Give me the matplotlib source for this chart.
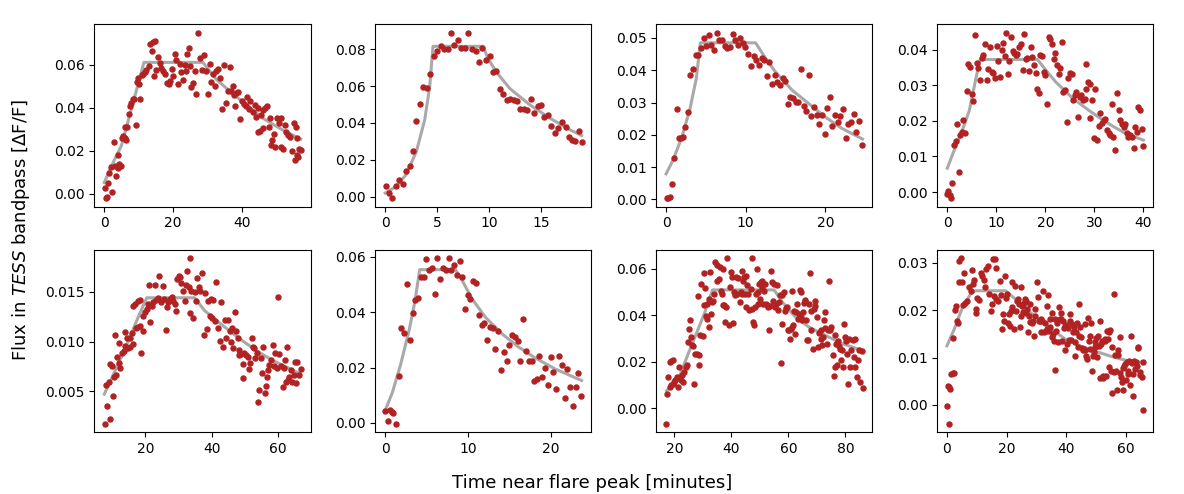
import numpy as np
import matplotlib
matplotlib.use("Agg")
import matplotlib.pyplot as plt

# flare light curves, (minutes, flux)
flare1 = [(0.2,0.0025),(0.5,-0.0022),(0.9,-0.0014),(1.2,0.0049),(2.1,0.0008),(1.4,0.0094),(1.8,0.0123),
          (2.8,0.0241),(3.4,0.008),(3.1,0.0131),(3.9,0.0178),(4.3,0.0139),(4.05,0.012),(4.8,0.013),(5.0,0.026),
          (5.5,0.027),(5.9,0.026),(6.3,0.025),(6.7,0.031),(6.1,0.031),(7.1,0.037),(7.4,0.041),(7.8,0.042),
          (8.2,0.044),(8.7,0.044),(9.2,0.032),(9.4,0.052),(9.8,0.054),(10.1,0.051),(10.5,0.044),(10.8,0.055),
          (11.3,0.0556),(11.8,0.0564),(12.2,0.0575),(13.0,0.0595),(13.4,0.0698),(14.2,0.0704),(14.8,0.071),
          (13.8,0.0666),(14.5,0.0548),(15.1,0.0575),(15.6,0.0635),(16.1,0.061),(16.5,0.0587),(17.1,0.057),
          (17.6,0.0556),(18.2,0.0516),(18.7,0.0509),(19.2,0.0524),(19.5,0.058),(19.96,0.0548),(20.4,0.065),
          (20.7,0.062),(21.4,0.0509),(21.9,0.0603),(22.4,0.0564),(22.9,0.0528),(23.3,0.060),(24.0,0.065),
          (24.5,0.068),(23.8,0.057),(24.8,0.0595),(25.3,0.0496),(25.8,0.0516),(26.2,0.0569),(26.7,0.0466),
          (27.1,0.075),(27.7,0.063),(28.3,0.0575),(28.8,0.0646),(29.4,0.0569),(30.0,0.0465),(30.6,0.0603),
          (30.9,0.052),(31.5,0.0556),(32.0,0.050),(32.5,0.057),(33.0,0.058),(33.5,0.054),(34.2,0.0394),
          (34.7,0.0598),(35.2,0.0422),(35.8,0.0477),(36.4,0.059),(36.8,0.0477),(37.3,0.050),(37.6,0.046),
          (38.0,0.041),(38.3,0.047),(38.9,0.0474),(39.4,0.0346),(39.9,0.043),(40.4,0.0417),(41.0,0.0406),
          (41.5,0.0449),(41.9,0.0395),(42.3,0.043),(43.1,0.038),(43.7,0.0414),(44.1,0.0356),(44.7,0.040),
          (45.5,0.0367),(46.0,0.039),(44.5,0.0288),(45.2,0.0293),(46.0,0.0304),(46.7,0.040),(47.3,0.0406),
          (47.7,0.031),(48.2,0.035),(48.7,0.0249),(49.1,0.0276),(48.4,0.0225),(49.5,0.0217),(50.0,0.035),
          (50.6,0.033),(51.3,0.035),(51.3,0.0217),(52.0,0.0209),(52.5,0.032),(52.7,0.0288),(53.4,0.0272),
          (54.0,0.0265),(54.5,0.0197),(55.0,0.0328),(55.5,0.031),(55.8,0.0257),(56.2,0.017),(56.6,0.0209),
          (57.0,0.0202),(55.4,0.0159),(56.0,0.0178)]
model1 = [(0,0.0052),(2.6,0.0146),(5,0.0225),(7.4,0.0367),(9.8,0.0509),(11.5,0.0611),(28.6,0.0611),
          (32.5,0.0532),(36.4,0.0477),(41.2,0.0414),(46,0.0351),(51.8,0.0296),(57.0,0.0254)]

flare2 = [(0.03,0.0059),(0.35,0.002),(0.68,-0.0009),(1.0,0.0056),(1.32,0.0092),(1.7,0.007),(2.0,0.0142),
          (2.35,0.0167),(2.67,0.0248),(3.0,0.0408),(3.35,0.0502),(3.67,0.0592),(4.0,0.059),(4.35,0.0667),
          (4.67,0.0761),(5.0,0.0788),(5.34,0.0819),(5.7,0.0802),(6.0,0.080),(6.34,0.089),(6.66,0.0824),
          (7.0,0.0847),(7.3,0.0806),(7.66,0.0806),(8.0,0.0887),(8.34,0.0799),(8.7,0.079),(9.0,0.073),
          (9.36,0.0808),(9.7,0.0743),(10.04,0.0761),(10.37,0.0676),(10.7,0.068),(11.04,0.0586),(11.37,0.0556),
          (11.68,0.0523),(12.04,0.0532),(12.36,0.0523),(12.67,0.0518),(13.0,0.0478),(13.36,0.0478),
          (13.68,0.047),(14.0,0.0532),(14.32,0.0452),(14.68,0.0491),(15.0,0.0497),(15.32,0.0434),
          (15.68,0.0443),(16.0,0.0383),(16.35,0.0347),(16.67,0.037),(17.03,0.0403),(17.35,0.0376),
          (17.67,0.0326),(18.0,0.0308),(18.3,0.0304),(18.6,0.0356),(18.9,0.0295)]
model2 = [(0,0.002),(1.06,0.0056),(2.0,0.0119),(3.0,0.0245),(3.8,0.0416),(4.28,0.0595),(4.6,0.0815),
          (9.43,0.0815),(9.9,0.0748),(10.7,0.0676),(12.0,0.0586),(13.94,0.0497),(15.87,0.0425),
          (17.8,0.0362),(18.9,0.0332)]

flare3 = [(0.08,0.0003),(0.29,0.0005),(0.5,0.0007),(0.74,0.0049),(1.03,0.0128),(1.4,0.028),(1.65,0.019),
          (1.9,0.019),(2.15,0.0192),(2.4,0.0224),(2.73,0.027),(3.06,0.0386),(3.4,0.0403),(3.72,0.0447),
          (4.05,0.0447),(4.38,0.0468),(4.7,0.050),(5.04,0.0475),(5.37,0.0509),(5.7,0.0478),(6.03,0.0463),
          (6.36,0.0517),(6.7,0.0493),(7.02,0.0493),(7.36,0.0475),(7.69,0.047),(8.0,0.0473),(8.35,0.0512),
          (8.68,0.0493),(9.0,0.0478),(9.34,0.050),(9.67,0.0483),(9.9,0.0471),(10.33,0.045),(10.66,0.0413),
          (11.0,0.0444),(11.32,0.0432),(11.65,0.0416),(12.0,0.0437),(12.3,0.0432),(12.64,0.0382),
          (12.97,0.0427),(13.3,0.0357),(13.64,0.0385),(13.97,0.0365),(14.3,0.0355),(14.63,0.0375),
          (14.96,0.0368),(15.3,0.0295),(15.6,0.0317),(15.95,0.0314),(16.28,0.0303),(16.6,0.0303),
          (16.94,0.0403),(17.27,0.029),(17.6,0.0274),(17.93,0.0385),(18.26,0.0257),(18.6,0.0286),
          (18.93,0.0262),(19.25,0.0234),(19.6,0.0262),(19.9,0.0204),(20.25,0.0282),(20.6,0.0317),
          (20.9,0.0228),(21.24,0.0262),(21.57,0.0239),(21.9,0.0257),(22.23,0.028),(22.56,0.019),
          (22.9,0.0234),(23.2,0.0239),(23.55,0.0264),(23.88,0.021),(24.2,0.0242),(24.55,0.0169)]
model3 = [(0,0.0079),(0.9,0.0123),(1.94,0.019),(2.98,0.0278),(3.8,0.0375),(4.3,0.0485),(11.24,0.0485),
          (12.5,0.0437),(13.7,0.0396),(15.8,0.0339),(17.85,0.0298),(19.9,0.0257),(22,0.0221),(24.67,0.0187)]

flare4 = [(-0.07,-0.0006),(0.2,0.0002),(0.47,-0.0009),(0.74,-0.0018),(1.0,0.0024),(1.35,0.0132),
          (1.7,0.0144),(2.0,0.0191),(2.37,0.0057),(2.64,0.016),(3.04,0.017),(3.3,0.0202),(3.65,0.0165),
          (4.0,0.0284),(4.3,0.0359),(4.66,0.0352),(5.0,0.0277),(5.34,0.0257),(5.68,0.0442),(6.0,0.0362),
          (6.35,0.0348),(6.7,0.0315),(7.03,0.0376),(7.36,0.0385),(7.7,0.0416),(8.04,0.0315),(8.38,0.0345),
          (8.72,0.0407),(9.05,0.0338),(9.4,0.0334),(9.73,0.0322),(10.07,0.041),(10.4,0.0369),(10.74,0.0324),
          (11.08,0.0399),(11.4,0.042),(11.76,0.0383),(11.96,0.0449),(12.3,0.0332),(12.64,0.0369),
          (12.97,0.0437),(13.3,0.0397),(13.65,0.039),(14.0,0.0385),(14.3,0.0388),(14.66,0.0409),(15.0,0.0416),
          (15.34,0.0343),(15.68,0.0444),(16.0,0.0373),(16.35,0.0376),(16.7,0.0341),(17.03,0.0407),
          (17.36,0.038),(17.7,0.0357),(18.04,0.0334),(18.3,0.0289),(18.65,0.0279),(19.0,0.0385),
          (19.32,0.0382),(19.66,0.0338),(20.0,0.0329),(20.34,0.0249),(20.68,0.0435),(21.0,0.0432),
          (21.35,0.0416),(21.7,0.0373),(22.0,0.039),(22.36,0.0357),(22.7,0.0332),(23.04,0.0348),
          (23.3,0.0423),(23.65,0.0282),(24.0,0.0287),(24.32,0.0198),(24.66,0.032),(25.0,0.0334),
          (25.34,0.0332),(25.68,0.026),(26.0,0.0273),(26.35,0.0282),(26.7,0.021),(27.0,0.0268),
          (27.36,0.0273),(27.7,0.026),(28.04,0.0263),(28.38,0.0291),(28.3,0.036),(28.7,0.031),(29.05,0.0305),
          (29.05,0.0209),(29.5,0.026),(29.86,0.0151),(30.2,0.0291),(30.6,0.0146),(30.9,0.0186),(31.2,0.0221),
          (31.55,0.0195),(31.9,0.0202),(32.2,0.0206),(32.56,0.0174),(32.9,0.0165),(33.24,0.016),(33.6,0.0247),
          (33.9,0.0156),(34.26,0.0118),(34.6,0.0279),(34.93,0.023),(35.27,0.0202),(35.6,0.0191),
          (35.95,0.0184),(36.3,0.0191),(36.6,0.0167),(36.96,0.0154),(37.3,0.016),(37.64,0.0156),
          (38.0,0.0123),(38.3,0.0182),(38.65,0.017),(39.0,0.0238),(39.3,0.023),(39.66,0.0176),(40.0,0.0129)]
model4 = [(0,0.0067),(1.15,0.0109),(2.84,0.0165),(4.5,0.023),(5.9,0.0324),(6.7,0.0373),(18.4,0.0373),
          (20.1,0.0343),(22.1,0.031),(25.5,0.0265),(28.85,0.023),(32.2,0.0198),(36.3,0.0165),(40,0.0146)]

flare5 = [(7.8,0.0017),(9.2,0.0022),(8.4,0.0035),(8.1,0.0056),(8.9,0.0059),(10.2,0.0045),(9.4,0.0077),
          (9.8,0.0075),(10.6,0.0064),(11.1,0.0066),(10.7,0.0107),(11.4,0.0084),(11.9,0.0078),(12.4,0.0073),
          (11.9,0.0098),(12.9,0.0088),(13.4,0.009),(13.9,0.0095),(14.4,0.0104),(13.7,0.011),(14.9,0.0093),
          (15.4,0.0094),(16.2,0.0097),(16.2,0.0136),(16.9,0.0138),(17.7,0.0141),(15.4,0.0104),(15.9,0.0109),
          (17.2,0.0114),(17.9,0.0115),(18.4,0.0116),(18.7,0.0088),(18.4,0.0142),(19.2,0.0111),(19.4,0.0126),
          (19.9,0.0130),(20.4,0.0133),(20.9,0.0138),(21.2,0.0157),(21.9,0.0136),(22.4,0.014),(21.4,0.012),
          (22.9,0.0157),(23.2,0.0142),(23.9,0.0144),(24.2,0.0166),(24.6,0.014),(25.2,0.0156),(25.6,0.0143),
          (26.2,0.0112),(26.6,0.0135),(26.9,0.014),(27.4,0.0143),(27.9,0.0145),(28.4,0.0141),(28.9,0.0138),
          (29.2,0.0131),(29.6,0.0163),(30.2,0.0166),(30.6,0.0165),(30.9,0.0159),(31.4,0.0151),(31.9,0.0141),
          (32.4,0.0157),(32.6,0.0171),(33.1,0.0155),(33.6,0.0184),(33.4,0.0129),(33.9,0.0151),(34.4,0.0124),
          (34.9,0.015),(35.2,0.0141),(35.6,0.0164),(36.2,0.0155),(36.6,0.0151),(37.1,0.0169),(37.6,0.0107),
          (37.9,0.0149),(38.6,0.0113),(38.9,0.0141),(39.4,0.0126),(39.8,0.0143),(40.4,0.0142),(40.2,0.0124),
          (40.9,0.0121),(41.2,0.016),(41.9,0.0114),(42.4,0.0101),(42.9,0.014),(43.4,0.0094),(43.9,0.0122),
          (44.4,0.0104),(44.9,0.0122),(45.4,0.0111),(45.9,0.0099),(46.2,0.0114),(46.6,0.0093),(47.2,0.013),
          (47.4,0.0111),(47.9,0.0104),(48.2,0.0086),(48.4,0.0091),(48.9,0.0087),(49.4,0.0077),(49.6,0.0063),
          (49.9,0.0088),(50.4,0.0086),(50.9,0.0084),(51.2,0.0072),(51.6,0.0078),(52.1,0.0104),(52.4,0.0094),
          (52.7,0.0093),(53.1,0.0083),(53.6,0.0088),(53.9,0.0039),(54.4,0.0051),(54.9,0.0083),(55.2,0.0068),
          (55.6,0.0094),(56.1,0.0048),(56.4,0.0055),(56.7,0.0064),(57.1,0.0071),(57.4,0.0076),(57.9,0.0081),
          (58.4,0.0096),(58.7,0.0075),(59.2,0.0088),(59.6,0.0073),(60.0,0.0145),(60.4,0.0087),(60.9,0.0075),
          (61.4,0.0054),(61.9,0.0073),(62.2,0.0081),(62.4,0.0059),(62.9,0.0094),(63.2,0.0061),(63.4,0.0064),
          (63.9,0.0071),(64.4,0.0059),(64.8,0.0066),(65.2,0.0079),(65.6,0.0058),(65.9,0.0079),(66.4,0.0066),
          (66.9,0.0072)]
model5 = [(7.6,0.0047),(13.4,0.0089),(17.9,0.0125),(20.4,0.0144),(34.9,0.0144),(37.9,0.0131),(43.4,0.0116),
          (48.4,0.0103),(53.4,0.0091),(58.4,0.0081),(63.4,0.0073),(66.4,0.0068)]

flare6 = [(0.0,0.0042),(0.28,0.0006),(0.6,0.0045),(0.8,0.0041),(0.96,0.0036),(1.28,-0.0004),(1.64,0.0169),
          (1.96,0.0342),(2.28,0.0325),(2.64,0.0502),(2.96,0.030),(3.32,0.0399),(3.64,0.0446),(3.96,0.0452),
          (4.28,0.0529),(4.64,0.0527),(4.96,0.0593),(5.28,0.0551),(5.64,0.056),(5.96,0.0466),(6.28,0.0596),
          (6.64,0.052),(6.96,0.056),(7.28,0.0554),(7.64,0.0595),(7.96,0.0551),(8.28,0.0571),(8.64,0.0536),
          (8.96,0.0587),(9.28,0.0529),(9.64,0.0413),(9.96,0.0464),(10.28,0.0448),(10.64,0.0512),
          (10.96,0.0505),(11.28,0.039),(11.64,0.0355),(11.96,0.036),(12.28,0.0298),(12.64,0.0348),
          (12.96,0.0343),(13.28,0.0266),(13.64,0.0331),(13.96,0.0192),(14.28,0.0255),(14.64,0.0225),
          (14.96,0.0282),(15.28,0.0318),(15.6,0.031),(15.96,0.0295),(16.28,0.0225),(16.6,0.0375),
          (16.96,0.0259),(17.28,0.0223),(17.64,0.0223),(17.96,0.0153),(18.28,0.0159),(18.6,0.0243),
          (18.96,0.0165),(19.28,0.02),(19.6,0.0137),(19.96,0.0237),(20.28,0.0183),(20.64,0.0123),
          (20.96,0.024),(21.28,0.0211),(21.64,0.009),(21.96,0.0195),(22.28,0.0131),(22.64,0.006),
          (22.96,0.0129),(23.28,0.018),(23.64,0.0096)]
model6 = [(0,0.0045),(0.88,0.0111),(1.88,0.0213),(2.88,0.0334),(3.6,0.0442),(4.16,0.0554),(8.48,0.0554),
          (9.28,0.0515),(10.48,0.0448),(12.08,0.0382),(14.08,0.0322),(16.08,0.0274),(18.08,0.0235),
          (20.48,0.0195),(23.68,0.0153)]

flare7 = [(17.1,-0.0067),(17.4,0.0064),(17.8,0.0133),(18.3,0.020),(19.0,0.0204),(19.4,0.0207),(18.3,0.0093),
          (18.8,0.010),(19.4,0.0107),(20.0,0.0114),(20.3,0.0124),(20.8,0.0136),(21.2,0.0093),(21.5,0.0179),
          (21.7,0.0129),(22.3,0.0121),(22.7,0.0143),(23.1,0.0114),(23.5,0.0157),(24.1,0.0179),(24.4,0.0186),
          (24.8,0.0286),(25.2,0.0343),(25.6,0.0379),(25.8,0.0307),(26.2,0.0272),(26.6,0.0267),(26.9,0.0104),
          (27.1,0.0236),(27.8,0.0233),(28.2,0.0482),(28.5,0.0186),(28.7,0.0229),(29.0,0.0314),(29.4,0.0536),
          (29.9,0.031),(30.4,0.0583),(30.5,0.0447),(30.8,0.0517),(31.1,0.0396),(31.3,0.0386),(31.5,0.045),
          (32.0,0.035),(32.2,0.0472),(32.6,0.0586),(32.8,0.0407),(33.2,0.0457),(33.6,0.0461),(33.9,0.0493),
          (34.3,0.0629),(34.8,0.0547),(35.1,0.0619),(35.5,0.0557),(36.0,0.0607),(36.3,0.0507),(36.7,0.0493),
          (36.9,0.060),(37.1,0.0447),(37.5,0.0443),(37.8,0.0372),(38.1,0.0436),(38.6,0.0647),(39.0,0.0357),
          (39.5,0.0524),(39.8,0.0586),(40.2,0.0564),(40.6,0.0367),(41.0,0.050),(41.3,0.0486),(41.8,0.0564),
          (42.1,0.0493),(42.5,0.0561),(42.9,0.0457),(43.3,0.050),(43.6,0.0593),(43.9,0.0493),(44.1,0.055),
          (44.5,0.0567),(44.8,0.0493),(45.0,0.0436),(45.3,0.0571),(45.6,0.0529),(46.0,0.0493),(46.2,0.0424),
          (46.8,0.0514),(47.1,0.0647),(47.4,0.0429),(47.6,0.0372),(47.96,0.0357),(48.3,0.0436),(48.5,0.0493),
          (48.9,0.060),(49.2,0.045),(49.5,0.050),(49.7,0.0536),(50.05,0.0472),(50.3,0.0543),(50.6,0.0519),
          (50.9,0.055),(51.2,0.045),(51.4,0.0507),(51.8,0.0536),(52.0,0.045),(52.6,0.0443),(52.96,0.0436),
          (53.2,0.0339),(53.5,0.0439),(53.8,0.059),(54.1,0.0543),(54.6,0.0461),(54.9,0.0536),(55.3,0.0436),
          (55.5,0.045),(55.9,0.0529),(56.2,0.0424),(56.6,0.0457),(56.9,0.0486),(57.4,0.0196),(57.6,0.0486),
          (57.9,0.0364),(58.4,0.050),(58.8,0.0421),(59.0,0.0433),(59.6,0.0436),(59.95,0.0339),(60.2,0.0336),
          (60.5,0.030),(60.8,0.0343),(61.1,0.0507),(61.4,0.035),(61.7,0.0357),(61.9,0.0421),(62.3,0.0322),
          (62.7,0.0414),(63.1,0.045),(63.4,0.0386),(63.7,0.0407),(64.0,0.051),(64.3,0.0393),(64.6,0.050),
          (64.8,0.0379),(65.2,0.0414),(65.4,0.0453),(65.8,0.0467),(66.0,0.0461),(66.2,0.0379),(66.6,0.0293),
          (66.9,0.0296),(67.2,0.045),(67.5,0.0583),(67.9,0.0339),(68.1,0.0419),(68.6,0.0257),(69.0,0.0429),
          (69.3,0.0439),(69.5,0.0461),(70.1,0.0393),(70.4,0.0264),(70.7,0.0324),(71.3,0.030),(71.6,0.0339),
          (71.8,0.0272),(72.2,0.0307),(72.4,0.0382),(72.8,0.0347),(73.0,0.0414),(73.6,0.0276),(73.9,0.0336),
          (74.2,0.0547),(74.7,0.0339),(75.1,0.035),(75.5,0.0229),(75.9,0.0139),(76.3,0.0179),(76.5,0.0314),
          (76.7,0.0279),(77.2,0.0186),(77.4,0.029),(77.7,0.0267),(78.2,0.0257),(78.6,0.0207),(78.8,0.025),
          (79.2,0.0179),(79.6,0.0364),(80.0,0.0307),(80.2,0.029),(80.6,0.0236),(80.9,0.0107),(81.2,0.030),
          (81.7,0.0179),(82.1,0.025),(82.6,0.0293),(82.9,0.0221),(83.2,0.030),(83.5,0.0179),(84.1,0.0136),
          (84.4,0.0207),(84.9,0.025),(85.2,0.0114),(85.8,0.0247),(86.0,0.0086)]
model7 = [(17.3,0.0076),(21.7,0.0136),(25.8,0.0264),(30.5,0.0407),(33.4,0.051),(55,0.051),(57.9,0.0457),
          (62.5,0.0393),(67.2,0.035),(73,0.0314),(78.8,0.0279),(85.8,0.025)]

flare8 = [(0,-0.0003),(0.56,-0.004),(0.33,0.0041),(0.78,0.0037),(1.1,0.0034),(1.3,0.0065),(1.9,0.0067),
          (2.4,0.0067),(1.9,0.0141),(2.7,0.020),(3.0,0.0209),(3.3,0.0178),(3.7,0.0174),(3.9,0.0303),(4.6,0.031),
          (4.1,0.0259),(5.0,0.0259),(5.8,0.0278),(5.5,0.0212),(6.1,0.0216),(6.8,0.022),(7.4,0.0248),(8.0,0.0241),
          (8.6,0.0255),(8.3,0.0285),(9.1,0.0264),(9.7,0.0202),(9.9,0.0195),(10.2,0.0226),(10.8,0.0221),
          (11.4,0.0278),(11.9,0.0273),(12.5,0.0264),(12.8,0.0248),(13.2,0.0287),(13.9,0.0294),(14.1,0.0234),
          (14.7,0.0199),(15.0,0.0213),(15.5,0.0308),(16.1,0.0308),(16.4,0.029),(15.8,0.023),(16.6,0.0223),
          (17.2,0.0219),(17.7,0.0262),(18.0,0.0232),(18.6,0.016),(18.9,0.0192),(19.1,0.0178),(19.5,0.0273),
          (19.9,0.0226),(20.3,0.0234),(20.6,0.0174),(20.8,0.0192),(21.0,0.0167),(21.4,0.0199),(21.7,0.0259),
          (21.9,0.0206),(22.5,0.016),(22.8,0.0252),(23.0,0.0199),(23.6,0.022),(23.9,0.0223),(24.2,0.0213),
          (24.5,0.0165),(24.7,0.0188),(25.0,0.0249),(25.3,0.0209),(25.6,0.0197),(25.8,0.0216),(26.2,0.0223),
          (26.4,0.0195),(26.6,0.022),(26.9,0.0202),(27.2,0.0155),(27.5,0.0188),(27.8,0.0176),(28.0,0.0213),
          (28.4,0.0174),(28.8,0.0178),(29.2,0.0146),(29.5,0.0202),(29.7,0.0188),(30.3,0.0259),(30.6,0.0227),
          (30.8,0.0178),(31.2,0.0178),(31.4,0.0181),(31.7,0.0153),(32.0,0.0178),(32.3,0.0241),(32.5,0.0155),
          (32.8,0.0174),(33.1,0.0157),(33.4,0.0209),(33.7,0.016),(33.9,0.0232),(34.2,0.0157),(34.5,0.0181),
          (34.7,0.0165),(35.1,0.0195),(35.3,0.0143),(35.6,0.015),(35.8,0.0134),(36.2,0.0181),(36.4,0.0074),
          (36.7,0.0157),(37.0,0.0174),(37.3,0.0132),(37.5,0.0206),(37.8,0.0181),(38.1,0.0195),(38.4,0.0181),
          (38.6,0.0136),(39.0,0.0178),(39.2,0.0162),(39.5,0.0115),(39.7,0.0167),(39.96,0.0169),(40.3,0.0129),
          (40.6,0.0162),(40.8,0.0137),(41.2,0.0193),(41.4,0.0178),(41.7,0.0137),(42.0,0.0171),(42.3,0.0155),
          (42.5,0.0164),(42.8,0.0104),(43.1,0.0132),(43.4,0.0153),(43.6,0.0174),(43.9,0.0123),(44.2,0.0213),
          (44.4,0.0146),(44.7,0.0164),(45.1,0.0143),(45.3,0.012),(45.5,0.0115),(45.9,0.0118),(46.2,0.0171),
          (46.4,0.0115),(46.6,0.0104),(47.0,0.0097),(47.3,0.0183),(47.5,0.0136),(47.9,0.0118),(48.1,0.0146),
          (48.4,0.0174),(48.6,0.0071),(48.9,0.0104),(49.2,0.0111),(49.5,0.0122),(49.7,0.0132),(50.1,0.0141),
          (50.3,0.0102),(50.6,0.0146),(50.9,0.0125),(51.2,0.0178),(51.4,0.0058),(51.8,0.0129),(52.0,0.0136),
          (52.3,0.0058),(52.5,0.0062),(52.9,0.0139),(53.1,0.0136),(53.3,0.0062),(53.6,0.0157),(53.97,0.0139),
          (54.2,0.0155),(54.5,0.0081),(54.8,0.0158),(55.1,0.0072),(55.3,0.0025),(55.5,0.0123),(55.9,0.0069),
          (56.2,0.0235),(56.4,0.0106),(56.8,0.0072),(57.0,0.0032),(57.3,0.0106),(57.5,0.0116),(57.9,0.0067),
          (58.1,0.0143),(58.4,0.006),(58.7,0.0048),(58.99,0.0078),(59.2,0.0032),(59.5,0.0083),(59.8,0.0086),
          (60.1,0.0053),(60.3,0.009),(60.6,0.0072),(60.9,0.0065),(61.1,0.0093),(61.4,0.0043),(61.8,0.0146),
          (62.0,0.0088),(62.3,0.0065),(62.5,0.002),(62.9,0.0092),(63.1,0.0076),(63.4,0.009),(63.7,0.0083),
          (63.99,0.0122),(64.2,0.012),(64.6,0.0069),(64.9,0.0064),(65.3,0.006),(65.6,-0.001),(65.9,0.009)]
model8 = [(0,0.0125),(2.45,0.016),(5.2,0.0206),(8,0.0235),(9.5,0.0241),(19.7,0.0241),(23,0.0223),
          (28.6,0.0192),(34.2,0.0164),(39.7,0.0139),(45.3,0.0123),(50.9,0.0111),(56.4,0.01),(60.9,0.0093),
          (65.9,0.009)]

flares = [flare1, flare2, flare3, flare4, flare5, flare6, flare7, flare8]
models = [model1, model2, model3, model4, model5, model6, model7, model8]

fig, axes = plt.subplots(2, 4, figsize=(11.84, 4.94), dpi=100)
plt.subplots_adjust(left=0.0798, right=0.974, top=0.951, bottom=0.125, wspace=0.30, hspace=0.236)

for ax, pts, mod in zip(axes.flat, flares, models):
    t, f = np.array(pts).T
    mt, mf = np.array(mod).T
    ax.plot(mt, mf, color='darkgray', lw=2.2, zorder=1)
    ax.scatter(t, f, s=13, color='firebrick', zorder=2)

fig.text(0.5, 0.022, 'Time near flare peak [minutes]', ha='center', va='center', fontsize=13)
fig.text(0.018, 0.535, 'Flux in $\\it{TESS}$ bandpass [ΔF/F]', ha='center', va='center',
         rotation='vertical', fontsize=13)

plt.savefig('out.png', dpi=100)
